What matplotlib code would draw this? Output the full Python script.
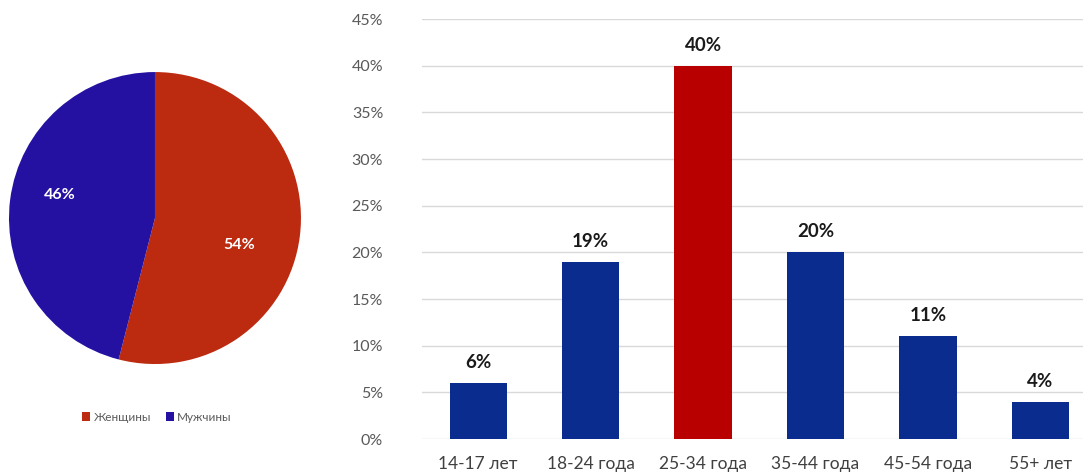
import matplotlib
matplotlib.use("Agg")
import matplotlib.pyplot as plt
from matplotlib.patches import Patch

plt.rcParams['font.family'] = ['Lato', 'DejaVu Sans']

# Pie data
gender_labels = ['Женщины', 'Мужчины']
gender_values = [54, 46]
gender_colors = ['#BC2A10', '#2411A2']

# Bar data
age_groups = ['14-17 лет', '18-24 года', '25-34 года', '35-44 года', '45-54 года', '55+ лет']
age_values = [0.06, 0.19, 0.40, 0.20, 0.11, 0.04]
bar_colors = ['#0A2C8F', '#0A2C8F', '#B80000', '#0A2C8F', '#0A2C8F', '#0A2C8F']

fig = plt.figure(figsize=(10.83, 4.74), dpi=100)

# Pie
axp = fig.add_axes([0.0083, 0.232, 0.2696, 0.616])
wedges, _ = axp.pie(gender_values, colors=gender_colors, startangle=90,
                    counterclock=False, radius=1.0)
axp.set_aspect('equal')
axp.set_xlim(-1, 1)
axp.set_ylim(-1, 1)
axp.text(0.58, -0.185, f'{gender_values[0]}%', color='white', fontsize=11.5,
         fontweight='bold', ha='center', va='center')
axp.text(-0.65, 0.16, f'{gender_values[1]}%', color='white', fontsize=11.5,
         fontweight='bold', ha='center', va='center')

handles = [Patch(facecolor=c, edgecolor='none') for c in gender_colors]
fig.legend(handles, gender_labels, loc='center', bbox_to_anchor=(0.145, 0.12),
           ncol=2, frameon=False, fontsize=8.5, handlelength=0.7, handleheight=0.7,
           handletextpad=0.3, columnspacing=1.2, labelcolor='#595959')

# Bars
axb = fig.add_axes([0.3897, 0.0738, 0.6103, 0.886])
x = list(range(len(age_groups)))
axb.bar(x, age_values, width=0.51, color=bar_colors, zorder=3)
axb.set_ylim(0, 0.45)
axb.set_xlim(-0.5, 5.38)
yt = [i * 0.05 for i in range(10)]
axb.set_yticks(yt)
axb.set_yticklabels([f'{int(round(v * 100))}%' for v in yt], fontsize=11.5, color='#595959')
axb.set_xticks(x)
axb.set_xticklabels(age_groups, fontsize=12.5, color='#404040', fontstretch='condensed')
axb.tick_params(axis='both', length=0)
axb.tick_params(axis='x', pad=12)
axb.tick_params(axis='y', pad=28)
for lab in axb.get_yticklabels():
    lab.set_horizontalalignment('right')
axb.grid(axis='y', color='#D9D9D9', linewidth=1, zorder=0)
for s in axb.spines.values():
    s.set_visible(False)
for xi, v in zip(x, age_values):
    axb.text(xi, v + 0.013, f'{int(round(v * 100))}%', ha='center', va='bottom',
             fontsize=13.5, fontweight='bold', color='#1a1a1a')

fig.savefig('out.png', dpi=100)
